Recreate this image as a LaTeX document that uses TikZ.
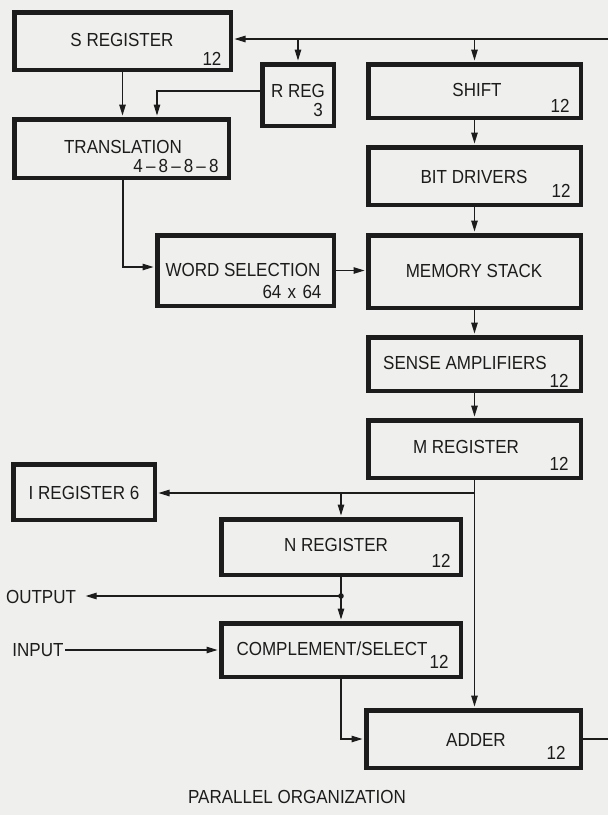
\documentclass[tikz,border=0pt]{standalone}
\usepackage{fontspec}
\setmainfont{Liberation Sans}[FakeStretch=0.9]
\usetikzlibrary{arrows.meta}
\definecolor{bg}{RGB}{239,239,237}
\definecolor{ink}{RGB}{28,28,28}
\begin{document}
\begin{tikzpicture}[x=1pt,y=-1pt,
  font=\fontsize{18.9}{20}\selectfont,
  box/.style={draw=ink, line width=4.5pt, inner sep=0pt},
  lbl/.style={inner sep=0pt, text=ink, text depth=0pt, text height=13pt},
  wire/.style={draw=ink, line width=1.1pt},
  arr/.style={wire, shorten >=1.5pt, -{Triangle[length=11pt,width=6.5pt]}}]
\fill[bg] (0,0) rectangle (608,815);
\useasboundingbox (0,0) rectangle (608,815);
% boxes
\node[box, minimum width=216.5pt, minimum height=57.5pt] (s)  at (122.5,41)  {};
\node[box, minimum width=71.5pt,  minimum height=61.5pt] (r)  at (298,95)    {};
\node[box, minimum width=212.5pt, minimum height=53.5pt] (sh) at (474.5,91)  {};
\node[box, minimum width=214.5pt, minimum height=58.5pt] (tr) at (121.5,148.5) {};
\node[box, minimum width=212.5pt, minimum height=57.5pt] (bd) at (474.5,176) {};
\node[box, minimum width=176.5pt, minimum height=70.5pt] (ws) at (245.5,270.5) {};
\node[box, minimum width=212.5pt, minimum height=72.5pt] (ms) at (474.5,271.5) {};
\node[box, minimum width=212.5pt, minimum height=53.5pt] (sa) at (474.5,364) {};
\node[box, minimum width=212.5pt, minimum height=57.5pt] (mr) at (474.5,449) {};
\node[box, minimum width=141.5pt, minimum height=55.5pt] (ir) at (84,492)    {};
\node[box, minimum width=239.5pt, minimum height=55.5pt] (nr) at (341,547)   {};
\node[box, minimum width=239.5pt, minimum height=53.5pt] (cs) at (341,650)   {};
\node[box, minimum width=214.5pt, minimum height=57.5pt] (ad) at (473.5,739) {};
% texts
\node[lbl] (s-t)  at (122,40)  {S REGISTER};
\node[lbl] (s-n)  at (212,59)  {12};
\node[lbl] (r-t)  at (298,91)  {R REG};
\node[lbl] (r-n)  at (318,110) {3};
\node[lbl] (sh-t) at (477,90)  {SHIFT};
\node[lbl] (sh-n) at (560,106) {12};
\node[lbl] (tr-t) at (123,147) {TRANSLATION};
\node[lbl] (tr-n) at (176,166) {4\,--\,8\,--\,8\,--\,8};
\node[lbl] (bd-t) at (474,177) {BIT DRIVERS};
\node[lbl] (bd-n) at (561,191) {12};
\node[lbl] (ws-t) at (243,270) {WORD SELECTION};
\node[lbl] (ws-n) at (292,292) {64\,\,x\,\,64};
\node[lbl] (ms-t) at (474,271) {MEMORY STACK};
\node[lbl] (sa-t) at (465,363) {SENSE AMPLIFIERS};
\node[lbl] (sa-n) at (559,381) {12};
\node[lbl] (mr-t) at (466,447) {M REGISTER};
\node[lbl] (mr-n) at (559,464) {12};
\node[lbl] (ir-t) at (84,493)  {I REGISTER 6};
\node[lbl] (nr-t) at (336,545) {N REGISTER};
\node[lbl] (nr-n) at (441,561) {12};
\node[lbl] (cs-t) at (332,649) {COMPLEMENT/SELECT};
\node[lbl] (cs-n) at (439,662) {12};
\node[lbl] (ad-t) at (476,740) {ADDER};
\node[lbl] (ad-n) at (556,753) {12};
\node[lbl] (out)  at (41,597)  {OUTPUT};
\node[lbl] (in)   at (38,650)  {INPUT};
\node[lbl] (title) at (297,797) {PARALLEL ORGANIZATION};
% coordinates
\coordinate (fbR) at (612,739);
\coordinate (fbT) at (612,39);
\coordinate (rk)  at (157,91);
\coordinate (tk)  at (123,267);
\coordinate (mk)  at (474.5,493);
\coordinate (ok)  at (341,596);
\coordinate (ck)  at (341,739);
% connectors
\draw[arr] (ad.east) -- (fbR) -- (fbT) -- (s.east |- fbT);
\draw[arr] (r.north |- fbT) -- (r.north);
\draw[arr] (sh.north |- fbT) -- (sh.north);
\draw[arr] (sh.south) -- (bd.north);
\draw[arr] (bd.south) -- (ms.north);
\draw[arr] (ms.south) -- (sa.north);
\draw[arr] (sa.south) -- (mr.north);
\draw[arr] (s.south) -- (s.south |- tr.north);
\draw[arr] (r.west |- rk) -- (rk) -- (rk |- tr.north);
\draw[arr] (tr.south -| tk) -- (tk) -- (tk -| ws.west);
\draw[arr] (ws.east) -- (ws.east -| ms.west);
\draw[arr] (mr.south) -- (mr.south |- ad.north);
\draw[arr] (mk) -- (mk -| ir.east);
\draw[arr] (nr.north |- mk) -- (nr.north);
\draw[arr] (nr.south) -- (cs.north);
\fill[ink] (ok) circle (2.8);
\draw[arr] (ok) -- ([xshift=8pt]ok -| out.east);
\draw[arr] ([xshift=1.5pt]in.east) -- (in.east -| cs.west);
\draw[arr] (cs.south) -- (ck) -- (ad.west);
\end{tikzpicture}
\end{document}
